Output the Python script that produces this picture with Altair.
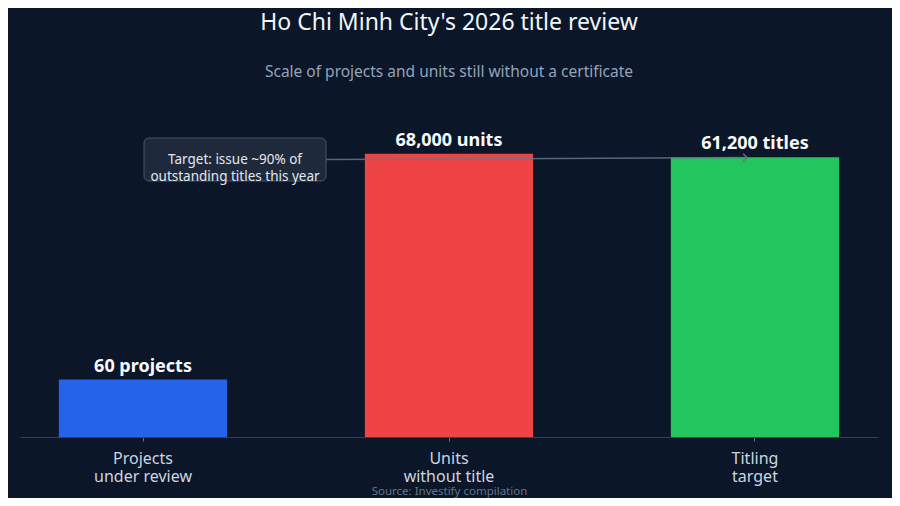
import altair as alt
import pandas as pd

categories = ["Projects under review", "Units without title", "Titling target"]
label_line1 = ["Projects", "Units", "Titling"]
label_line2 = ["under review", "without title", "target"]
values = [60, 68000, 61200]
bar_labels = ["60 projects", "68,000 units", "61,200 titles"]
colors = ["#2563eb", "#ef4444", "#22c55e"]
annotation_lines = ["Target: issue ~90% of", "outstanding titles this year"]

BG = "#0b1628"
W, H = 858, 340

df = pd.DataFrame({"cat": categories, "value": values, "label": bar_labels, "color": colors})

label_expr = " : ".join(
    f"datum.value == '{c}' ? ['{a}', '{b}']" for c, a, b in zip(categories, label_line1, label_line2)
) + " : datum.label"

x_enc = alt.X(
    "cat:N",
    sort=categories,
    scale=alt.Scale(paddingInner=0.45, paddingOuter=0.127),
    axis=alt.Axis(
        title="Source: Investify compilation",
        titleColor="#64748b",
        titleFontSize=11.5,
        titleFontWeight="normal",
        titleFont="Noto Sans",
        titlePadding=1,
        labelExpr=label_expr,
        labelAngle=0,
        labelFont="Noto Sans",
        labelFontSize=16,
        labelColor="#cbd5e1",
        labelPadding=9,
        labelLineHeight=18,
        domainColor="#334155",
        tickColor="#64748b",
        tickSize=4,
        grid=False,
    ),
)
y_scale = alt.Scale(type="log", domain=[10, 400000])

bars = alt.Chart(df).mark_bar().encode(
    x=x_enc,
    y=alt.Y("value:Q", scale=y_scale, axis=None),
    y2=alt.datum(10),
    color=alt.Color("color:N", scale=None),
)

texts = alt.Chart(df).mark_text(
    font="Noto Sans", fontSize=18, fontWeight="bold", color="#f8fafc", dy=-8, baseline="alphabetic"
).encode(
    x=alt.X("cat:N", sort=categories),
    y=alt.Y("value:Q", scale=y_scale),
    text="label:N",
)

ann = pd.DataFrame({"k": [0]})
box = alt.Chart(ann).mark_rect(
    fill="#1e293b", stroke="#475569", strokeWidth=1, cornerRadius=5
).encode(x=alt.value(124), x2=alt.value(306), y=alt.value(41), y2=alt.value(84))

arrow_line = alt.Chart(ann).mark_rule(color="#64748b", strokeWidth=1.5, opacity=0.85).encode(
    x=alt.value(306), x2=alt.value(727), y=alt.value(62.5), y2=alt.value(60.5)
)
arrow_head = alt.Chart(ann).mark_point(
    shape="M-1,-1L0,0L-1,1", filled=False, color="#64748b", size=60, strokeWidth=1.5, opacity=0.9
).encode(x=alt.value(727), y=alt.value(60.5))

ann_text = alt.Chart(pd.DataFrame({"t": [annotation_lines]})).mark_text(
    font="Noto Sans", fontSize=13.5, color="#e2e8f0", lineHeight=17, align="center", baseline="middle"
).encode(x=alt.value(215), y=alt.value(62.5), text="t")

chart = (
    alt.layer(bars, arrow_line, arrow_head, texts, box, ann_text)
    .properties(
        width=W,
        height=H,
        background=BG,
        padding={"left": 12, "top": 89, "right": 14, "bottom": 61},
        autosize="none",
        title=alt.TitleParams(
            text="Ho Chi Minh City's 2026 title review",
            subtitle="Scale of projects and units still without a certificate",
            font="Noto Sans",
            fontSize=23,
            fontWeight="normal",
            color="#f1f5f9",
            subtitleFont="Noto Sans",
            subtitleFontSize=15.5,
            subtitleColor="#94a3b8",
            subtitlePadding=30,
            anchor="middle",
            offset=17,
        ),
    )
    .configure_view(stroke=None)
)

chart.save("out.html", embed_options={"renderer": "svg", "actions": False})
